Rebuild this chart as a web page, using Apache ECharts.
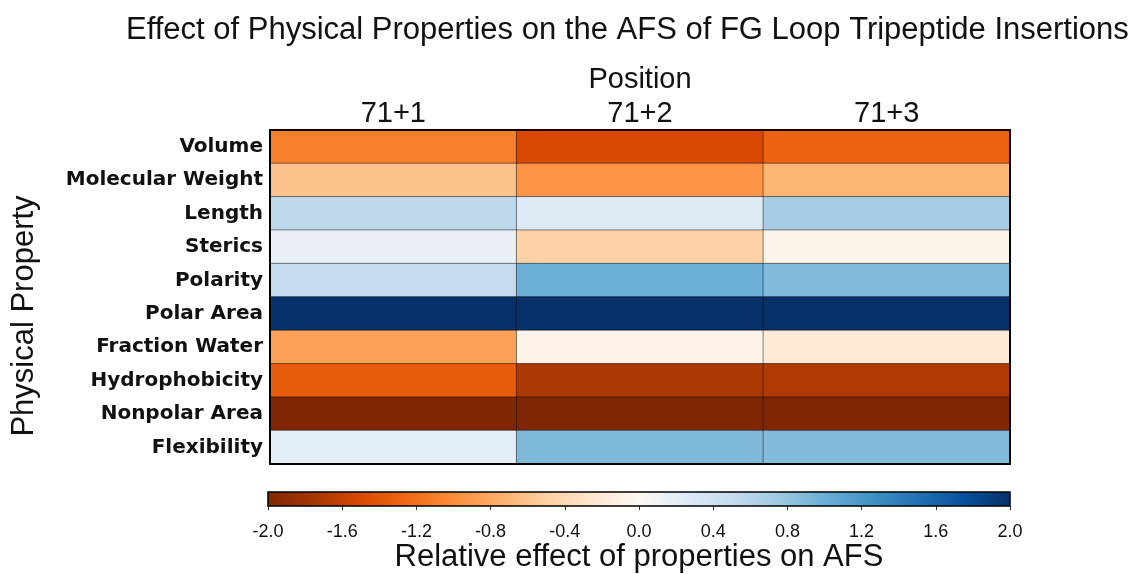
<!DOCTYPE html>
<html>
<head>
<meta charset="utf-8">
<script src="https://cdn.jsdelivr.net/npm/echarts@6/dist/echarts.min.js"></script>
<style>
  html, body { margin: 0; padding: 0; background: #fff; }
  #chart { width: 1129px; height: 574px; }
</style>
</head>
<body>
<div id="chart"></div>
<script>
// Insertion positions (columns) and physical properties (rows, top to bottom)
const positions = ['71+1', '71+2', '71+3'];
const properties = ['Volume', 'Molecular Weight', 'Length', 'Sterics', 'Polarity',
  'Polar Area', 'Fraction Water', 'Hydrophobicity', 'Nonpolar Area', 'Flexibility'];

// Relative effect on AFS, one array per position, in the order of `properties`
const pos1 = [-1.10, -0.60, 0.55, 0.15, 0.50, 2.00, -0.85, -1.35, -2.00, 0.20];
const pos2 = [-1.50, -0.95, 0.27, -0.48, 1.00, 2.00, -0.07, -1.72, -2.00, 0.90];
const pos3 = [-1.30, -0.70, 0.70, -0.06, 0.88, 2.00, -0.20, -1.70, -2.00, 0.88];

// Colour scale limits and colour bar ticks
const scaleMin = -2.0;
const scaleMax = 2.0;
const tickStep = 0.4;

// Diverging palette: reversed Oranges on the negative side, Blues on the positive side
const palette = ['#7f2704', '#a63603', '#d94801', '#f16913', '#fd8d3c', '#fdae6b', '#fdd0a2', '#fee6ce',
  '#fcf8f3',
  '#deebf7', '#c6dbef', '#9ecae1', '#6baed6', '#4292c6', '#2171b5', '#08519c', '#08306b'];

const columns = [pos1, pos2, pos3];
const cells = [];
columns.forEach((col, xi) => {
  col.forEach((v, yi) => cells.push([xi, yi, v]));
});

const chart = echarts.init(document.getElementById('chart'), null, { renderer: 'canvas' });

const sansFont = '"Liberation Sans", Arial, sans-serif';
const labelFont = '"DejaVu Sans", Verdana, sans-serif';

chart.setOption({
  backgroundColor: '#ffffff',
  animation: false,
  title: {
    text: 'Effect of Physical Properties on the AFS of FG Loop Tripeptide Insertions',
    left: 121,
    top: 10,
    textStyle: { fontFamily: sansFont, fontSize: 31, fontWeight: 'normal', color: '#111' }
  },
  graphic: [
    {
      // vertical axis title, centred a little below the grid centre
      type: 'text',
      x: 24, y: 316,
      rotation: Math.PI / 2,
      style: {
        text: 'Physical Property',
        fontFamily: sansFont, fontSize: 31, fill: '#111',
        align: 'center', verticalAlign: 'middle'
      }
    }
  ],
  visualMap: {
    show: false,
    type: 'continuous',
    min: scaleMin,
    max: scaleMax,
    seriesIndex: 0,
    dimension: 2,
    inRange: { color: palette }
  },
  grid: [
    { left: 270, top: 130, width: 740, height: 334, show: true, z: 5,
      backgroundColor: 'transparent', borderColor: '#000', borderWidth: 2 },
    { left: 268, top: 492, width: 742, height: 20 }
  ],
  xAxis: [
    {
      type: 'category', gridIndex: 0, position: 'top', data: positions,
      name: 'Position', nameLocation: 'middle', nameGap: 36,
      nameTextStyle: { fontFamily: sansFont, fontSize: 29, color: '#111' },
      axisLine: { show: false }, axisTick: { show: false },
      axisLabel: { fontFamily: sansFont, fontSize: 29, color: '#111', margin: 2 },
      splitLine: { show: false }
    },
    {
      type: 'value', gridIndex: 1, min: scaleMin, max: scaleMax, interval: tickStep,
      name: 'Relative effect of properties on AFS', nameLocation: 'middle', nameGap: 31,
      nameTextStyle: { fontFamily: sansFont, fontSize: 31, color: '#111' },
      axisLine: { show: false },
      axisTick: { show: true, length: 4, lineStyle: { color: '#333', width: 1 } },
      axisLabel: { fontFamily: sansFont, fontSize: 18, color: '#111', margin: 17,
        formatter: v => v.toFixed(1) },
      splitLine: { show: false }
    }
  ],
  yAxis: [
    {
      type: 'category', gridIndex: 0, inverse: true, data: properties,
      axisLine: { show: false }, axisTick: { show: false },
      axisLabel: { fontFamily: labelFont, fontWeight: 'bold', fontSize: 20, color: '#111', margin: 7 },
      splitLine: { show: false }
    },
    {
      type: 'value', gridIndex: 1, min: 0, max: 1, show: false
    }
  ],
  series: [
    {
      type: 'heatmap',
      xAxisIndex: 0, yAxisIndex: 0,
      data: cells,
      itemStyle: { borderColor: 'rgba(0,0,0,0.45)', borderWidth: 1 },
      emphasis: { disabled: true }
    },
    {
      // colour bar: a single rectangle spanning the scale, filled with the palette
      type: 'custom',
      xAxisIndex: 1, yAxisIndex: 1,
      data: [[scaleMin, scaleMax]],
      renderItem: (params, api) => {
        const p0 = api.coord([api.value(0), 1]);
        const p1 = api.coord([api.value(1), 0]);
        const stops = palette.map((c, i) => ({ offset: i / (palette.length - 1), color: c }));
        return {
          type: 'rect',
          shape: { x: p0[0], y: p0[1], width: p1[0] - p0[0], height: p1[1] - p0[1] },
          style: {
            fill: new echarts.graphic.LinearGradient(0, 0, 1, 0, stops),
            stroke: '#000', lineWidth: 1.5
          }
        };
      }
    }
  ]
});
</script>
</body>
</html>
